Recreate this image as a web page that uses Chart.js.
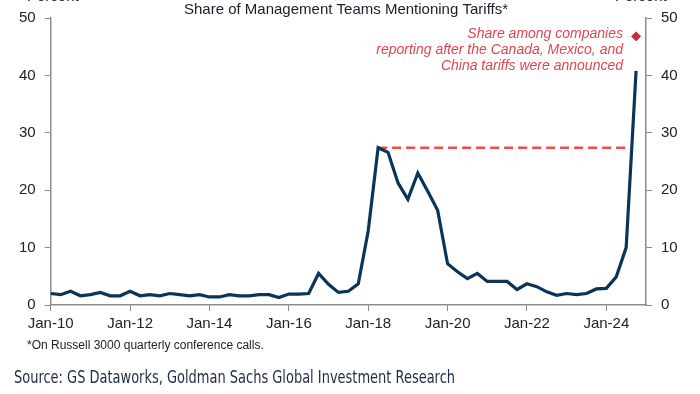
<!DOCTYPE html>
<html>
<head>
<meta charset="utf-8">
<script src="https://cdn.jsdelivr.net/npm/chart.js@4"></script>
<style>
  html, body { margin: 0; padding: 0; background: #fff; }
  #wrap { width: 700px; height: 394px; position: relative; }
</style>
</head>
<body>
<div id="wrap"><canvas id="chart" width="700" height="394"></canvas></div>
<script>
// --------------------
// Data (quarterly, Q1 2010 .. Q4 2024)
// --------------------
const startYear = 2010;
const tariffShare = [
  2.0, 1.8, 2.4, 1.6,   // 2010
  1.8, 2.2, 1.6, 1.6,   // 2011
  2.4, 1.6, 1.8, 1.6,   // 2012
  2.0, 1.8, 1.6, 1.8,   // 2013
  1.4, 1.4, 1.8, 1.6,   // 2014
  1.6, 1.8, 1.8, 1.3,   // 2015
  1.9, 1.9, 2.0, 5.5,   // 2016
  3.6, 2.2, 2.4, 3.7,   // 2017
  12.9, 27.4, 26.6, 21.3, // 2018
  18.4, 23.0, 19.8, 16.5, // 2019
  7.2, 5.8, 4.6, 5.5,   // 2020
  4.1, 4.1, 4.1, 2.7,   // 2021
  3.7, 3.2, 2.3, 1.7,   // 2022
  2.0, 1.8, 2.0, 2.8,   // 2023
  2.9, 4.9, 10.0, 40.8  // 2024
];
const peakRef = [ { x: 2018.25, y: 27.4 }, { x: 2024.6, y: 27.4 } ];
const latestShare = [ { x: 2024.75, y: 46.8 } ];
const xTickYears = [2010, 2012, 2014, 2016, 2018, 2020, 2022, 2024];
const yTicks = [0, 10, 20, 30, 40, 50];

const titleText = "Share of Management Teams Mentioning Tariffs*";
const noteLines = ["Share among companies", "reporting after the Canada, Mexico, and", "China tariffs were announced"];
const footnote = "*On Russell 3000 quarterly conference calls.";
const sourceText = "Source: GS Dataworks, Goldman Sachs Global Investment Research";

const linePoints = tariffShare.map((v, i) => ({ x: startYear + i / 4, y: v }));

const AXIS = "#8c8c8c";
const INK = "#222222";
const SANS = "'Liberation Sans', Arial, sans-serif";

// --------------------
// Text drawn around the chart
// --------------------
const textPlugin = {
  id: "texts",
  afterDraw(chart) {
    const ctx = chart.ctx;
    ctx.save();

    ctx.fillStyle = "#1d1d2b";
    ctx.font = "15px " + SANS;
    ctx.textAlign = "center";
    ctx.textBaseline = "middle";
    ctx.fillText(titleText, 346, 10);

    // cut-off unit labels at the very top
    ctx.fillStyle = INK;
    ctx.textBaseline = "alphabetic";
    ctx.textAlign = "left";
    ctx.fillText("Percent", 27, 1);
    ctx.fillText("Percent", 615, 1);

    // red note
    ctx.fillStyle = "#e0464f";
    ctx.font = "italic 14px " + SANS;
    ctx.textAlign = "right";
    ctx.textBaseline = "middle";
    noteLines.forEach((t, i) => ctx.fillText(t, 623, 34 + i * 16.3));

    ctx.fillStyle = INK;
    ctx.font = "12px " + SANS;
    ctx.textAlign = "left";
    ctx.fillText(footnote, 27, 346);

    ctx.fillStyle = "#1f2a44";
    ctx.font = "17px 'DejaVu Sans Condensed', 'Liberation Sans Narrow', " + SANS;
    const w = ctx.measureText(sourceText).width;
    ctx.translate(14, 379);
    ctx.scale(441 / w, 1);
    ctx.fillText(sourceText, 0, 0);
    ctx.restore();
  }
};

const yScaleBase = {
  type: "linear",
  min: 0,
  max: 50,
  afterBuildTicks: s => { s.ticks = yTicks.map(v => ({ value: v })); },
  grid: { drawOnChartArea: false, drawTicks: true, tickLength: 6, color: AXIS },
  border: { display: true, color: AXIS, width: 1.5 },
  ticks: { color: INK, font: { size: 15, family: SANS }, padding: 9 }
};

new Chart(document.getElementById("chart"), {
  type: "line",
  data: {
    datasets: [
      {
        data: linePoints,
        borderColor: "#0b3558",
        borderWidth: 3.2,
        pointRadius: 0,
        tension: 0,
        xAxisID: "x", yAxisID: "y"
      },
      {
        data: peakRef,
        borderColor: "#f44a42",
        borderWidth: 2.5,
        borderDash: [9, 5],
        pointRadius: 0,
        xAxisID: "x", yAxisID: "y"
      },
      {
        data: latestShare,
        showLine: false,
        pointStyle: "rectRot",
        pointRadius: 4.5,
        pointBackgroundColor: "#c8303a",
        pointBorderColor: "#c8303a",
        xAxisID: "x", yAxisID: "y"
      }
    ]
  },
  options: {
    responsive: false,
    animation: false,
    layout: { padding: { top: 15, left: 0, right: 0, bottom: 0 } },
    plugins: { legend: { display: false }, tooltip: { enabled: false } },
    scales: {
      x: {
        type: "linear",
        min: 2010,
        max: 2025,
        afterBuildTicks: s => { s.ticks = xTickYears.map(v => ({ value: v })); },
        afterFit: s => { s.height = 89; },
        grid: { drawOnChartArea: false, drawTicks: true, tickLength: 6, color: AXIS },
        border: { display: true, color: AXIS, width: 1.5 },
        ticks: {
          color: INK,
          font: { size: 15, family: SANS },
          padding: 4,
          maxRotation: 0,
          callback: v => "Jan-" + String(v).slice(2)
        }
      },
      y: Object.assign({}, yScaleBase, {
        position: "left",
        afterFit: s => { s.width = 50.7; }
      }),
      y2: Object.assign({}, yScaleBase, {
        position: "right",
        afterFit: s => { s.width = 54; }
      })
    }
  },
  plugins: [textPlugin]
});
</script>
</body>
</html>
